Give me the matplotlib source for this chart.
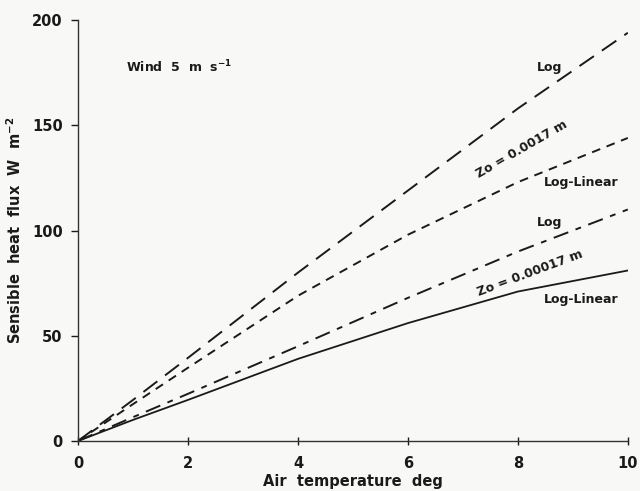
import matplotlib.pyplot as plt

# air temperature (deg) and sensible heat flux (W m-2)
temp = [0, 1, 2, 4, 6, 8, 10]
log_017 = [0, 19.5, 39.5, 80, 119, 158, 194]          # Zo = 0.0017 m, Log
loglin_017 = [0, 17.5, 34.8, 69, 98, 123, 144]       # Zo = 0.0017 m, Log-Linear
log_0017 = [0, 11.3, 22.4, 45, 68, 90, 110]           # Zo = 0.00017 m, Log
loglin_0017 = [0, 10, 19.5, 39, 56, 71, 81]          # Zo = 0.00017 m, Log-Linear

plt.rcParams['font.family'] = ['DejaVu Sans']
bg = '#f8f9f7'

fig = plt.figure(figsize=(6.4, 4.91), dpi=100, facecolor=bg)
ax = fig.add_axes([0.122, 0.102, 0.859, 0.857], facecolor=bg)

ink = '#1a1a1a'
ax.plot(temp, log_017, color=ink, lw=1.4, dashes=(9, 5))
ax.plot(temp, loglin_017, color=ink, lw=1.4, dashes=(4.5, 3.5))
ax.plot(temp, log_0017, color=ink, lw=1.4, dashes=(8, 4, 3, 4))
ax.plot(temp, loglin_0017, color=ink, lw=1.3)

ax.set_xlim(0, 10)
ax.set_ylim(0, 200)
ax.set_xticks([0, 2, 4, 6, 8, 10])
ax.set_yticks([0, 50, 100, 150, 200])
ax.spines['top'].set_visible(False)
ax.spines['right'].set_visible(False)
for s in ('left', 'bottom'):
    ax.spines[s].set_color('#333333')
    ax.spines[s].set_linewidth(1.0)
ax.tick_params(axis='y', direction='out', length=5, width=1, colors=ink,
               labelsize=10.5, pad=6)
ax.tick_params(axis='x', direction='inout', length=6, width=1, colors=ink,
               labelsize=10.5, pad=8)
for lab in ax.get_xticklabels() + ax.get_yticklabels():
    lab.set_fontweight('bold')

ax.set_xlabel('Air  temperature  deg', fontsize=10.5, fontweight='bold',
              color=ink, labelpad=2)
ax.set_ylabel('Sensible  heat  flux  W  m$^{\\mathbf{-2}}$', fontsize=10.5,
              fontweight='bold', color=ink, labelpad=6)

tk = dict(fontsize=9, fontweight='bold', color=ink)
ax.text(0.87, 177.7, 'Wind  5  m  s$^{\\mathbf{-1}}$', ha='left', va='center', **tk)
ax.text(8.8, 177.7, 'Log', ha='right', va='center', **tk)
ax.text(8.07, 138.7, 'Zo = 0.0017 m', ha='center', va='center',
        rotation=30, rotation_mode='anchor', **tk)
ax.text(9.15, 122.6, 'Log-Linear', ha='center', va='center', **tk)
ax.text(8.8, 103.6, 'Log', ha='right', va='center', **tk)
ax.text(8.22, 79.5, 'Zo = 0.00017 m', ha='center', va='center',
        rotation=20.5, rotation_mode='anchor', **tk)
ax.text(9.15, 67, 'Log-Linear', ha='center', va='center', **tk)

fig.savefig('out.png', dpi=100, facecolor=bg)
